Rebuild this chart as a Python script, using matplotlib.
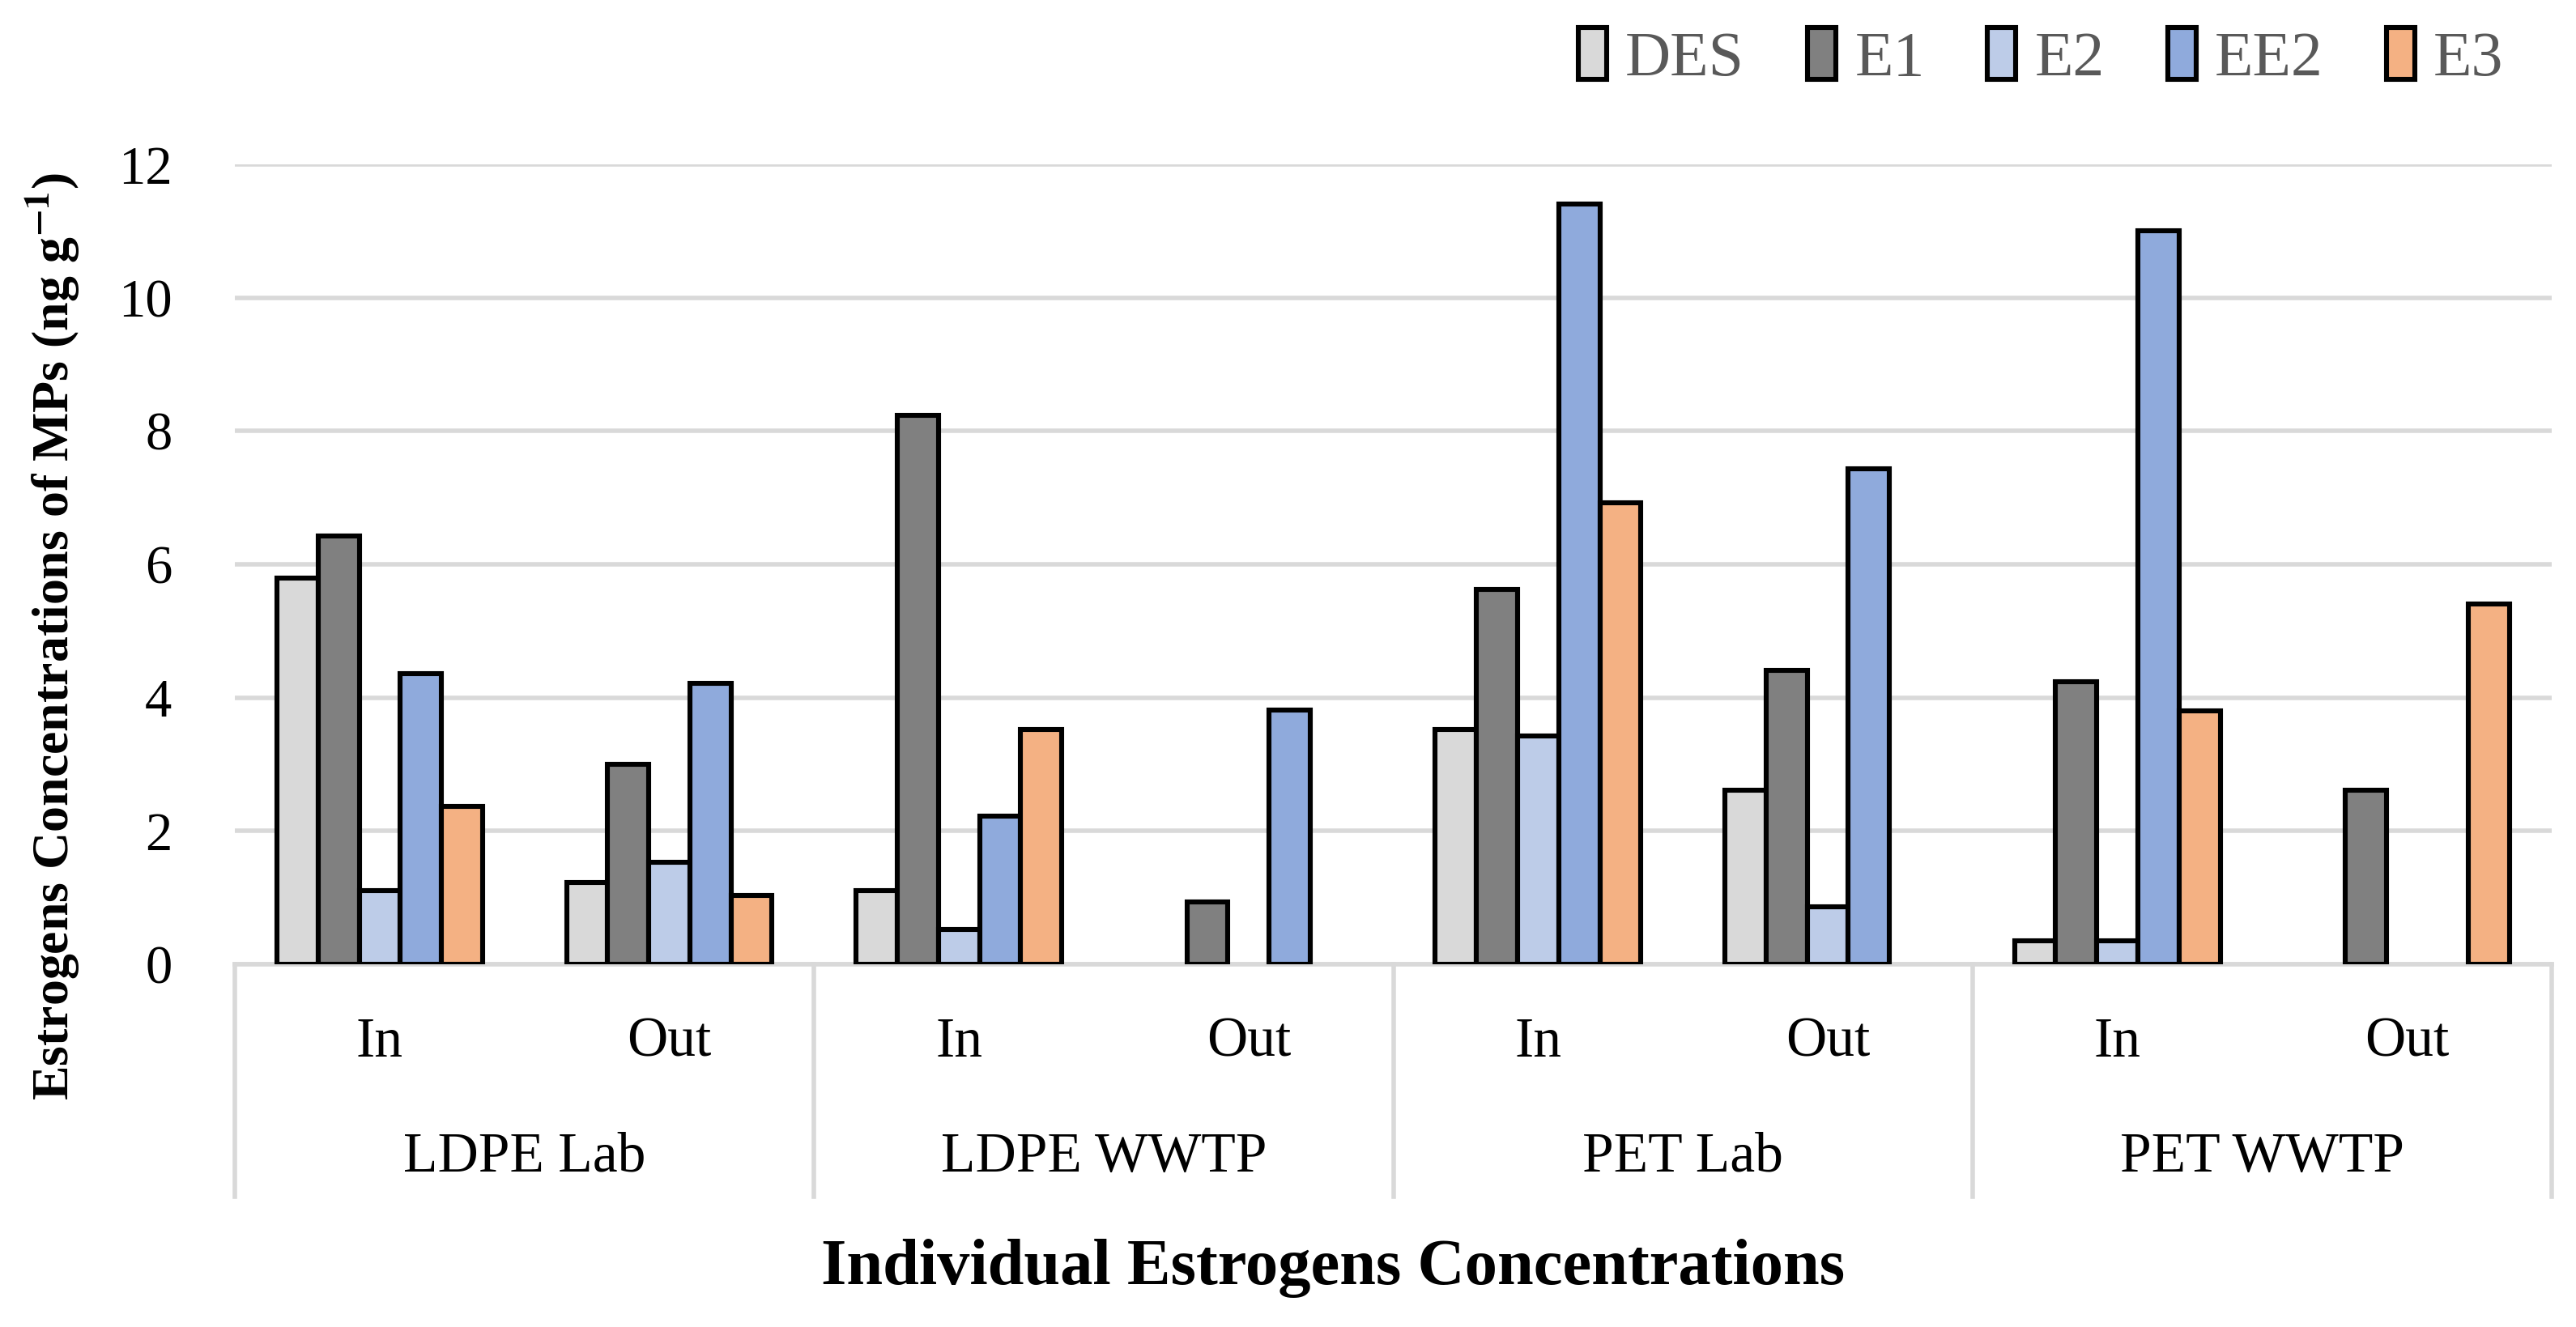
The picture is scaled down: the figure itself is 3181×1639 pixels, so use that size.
import numpy as np
import matplotlib.pyplot as plt
from matplotlib.patches import Patch

plt.rcParams['font.family'] = ['Liberation Serif', 'DejaVu Serif']
plt.rcParams['mathtext.fontset'] = 'stix'

groups = ['LDPE Lab', 'LDPE WWTP', 'PET Lab', 'PET WWTP']
subs = ['In', 'Out']
series = ['DES', 'E1', 'E2', 'EE2', 'E3']
colors = ['#d9d9d9', '#808080', '#bdcce8', '#8faadc', '#f4b183']

# one value per In/Out bar position (8 in order)
DES = [5.79, 1.23, 1.11, 0.0, 3.52, 2.61, 0.35, 0.0]
E1 = [6.43, 3.00, 8.23, 0.94, 5.62, 4.41, 4.24, 2.61]
E2 = [1.11, 1.53, 0.52, 0.0, 3.43, 0.86, 0.35, 0.0]
EE2 = [4.36, 4.21, 2.22, 3.82, 11.41, 7.44, 11.00, 0.0]
E3 = [2.37, 1.03, 3.52, 0.0, 6.92, 0.0, 3.80, 5.40]
values = [DES, E1, E2, EE2, E3]

fig = plt.figure(figsize=(15.905, 8.195), dpi=200)
ax = fig.add_axes([0.0912, 0.2733, 0.8994, 0.6028])

n = len(DES)
x = np.arange(n)
w = 0.142
for i, (name, vals) in enumerate(zip(series, values)):
    pos = x + (i - 2) * w
    vals = np.array(vals)
    mask = vals > 0
    ax.bar(pos[mask], vals[mask], w, color=colors[i], edgecolor='black',
           linewidth=2.2, zorder=3)

ax.set_xlim(-0.5, n - 0.5)
ax.set_ylim(0, 12)
ax.set_yticks(range(0, 13, 2))
ax.tick_params(axis='y', length=0, labelsize=24, pad=28)
ax.set_xticks([])
ax.grid(axis='y', color='#d9d9d9', linewidth=2.0, zorder=0)
for s in ['top', 'right', 'left']:
    ax.spines[s].set_visible(False)
ax.spines['bottom'].set_color('#d9d9d9')
ax.spines['bottom'].set_linewidth(2.0)

# multi-level category axis
tr = ax.get_xaxis_transform()
for i in range(n):
    ax.text(x[i], -0.098, subs[i % 2], transform=tr, ha='center', va='center',
            fontsize=25)
for g in range(len(groups)):
    ax.text(2 * g + 0.5, -0.242, groups[g], transform=tr, ha='center',
            va='center', fontsize=25)
for b in range(len(groups) + 1):
    ax.plot([2 * b - 0.5, 2 * b - 0.5], [0, -0.29], transform=tr,
            color='#d9d9d9', linewidth=2.0, clip_on=False)

ax.text(0.474, -0.38, 'Individual Estrogens Concentrations', transform=ax.transAxes,
        ha='center', va='center', fontsize=29, fontweight='bold')
ax.set_ylabel(r'Estrogens Concentrations of MPs (ng g$^{\mathbf{-1}}$)',
              fontsize=23, fontweight='bold')
ax.yaxis.set_label_coords(-0.066, 0.41)

handles = [Patch(facecolor=c, edgecolor='black', linewidth=2.2) for c in colors]
leg = ax.legend(handles, series, loc='center right', bbox_to_anchor=(0.99, 1.133),
                ncol=5, frameon=False, fontsize=28, handlelength=0.45,
                handleheight=0.9, handletextpad=0.3, columnspacing=1.0,
                borderaxespad=0)
for t in leg.get_texts():
    t.set_color('#595959')

fig.savefig('out.png', dpi=200)
